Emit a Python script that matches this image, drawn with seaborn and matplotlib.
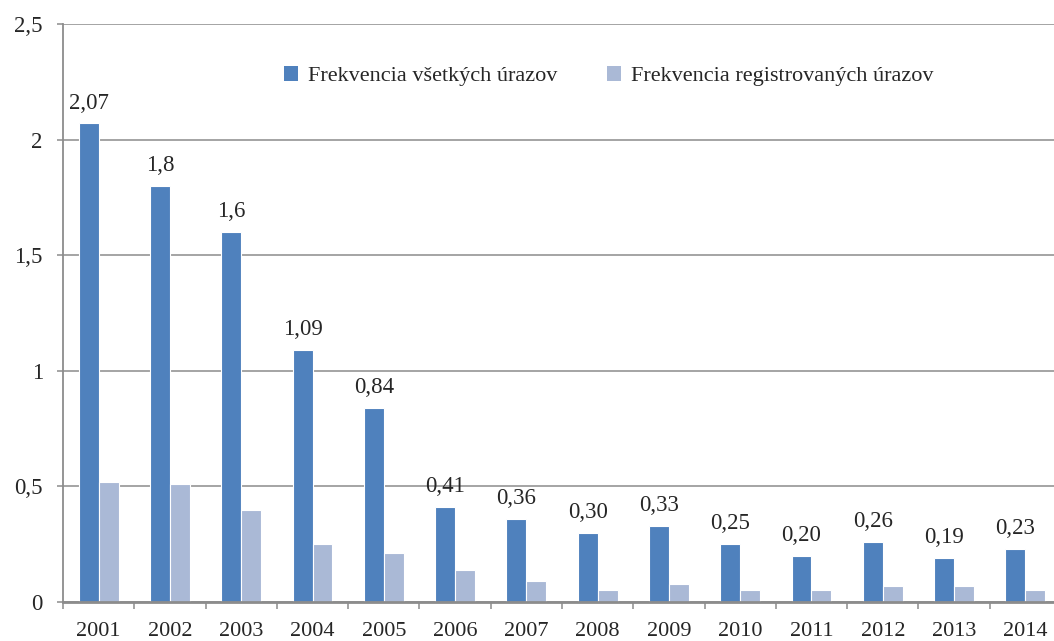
import matplotlib
matplotlib.use("Agg")
import matplotlib.pyplot as plt
import seaborn as sns
import pandas as pd
from matplotlib.patches import Patch

years = ["2001", "2002", "2003", "2004", "2005", "2006", "2007",
         "2008", "2009", "2010", "2011", "2012", "2013", "2014"]
vsetky = [2.07, 1.80, 1.60, 1.09, 0.84, 0.41, 0.36, 0.30, 0.33, 0.25, 0.20, 0.26, 0.19, 0.23]
registrovane = [0.52, 0.51, 0.40, 0.25, 0.21, 0.14, 0.09, 0.05, 0.08, 0.05, 0.05, 0.07, 0.07, 0.05]
value_labels = ["2,07", "1,8", "1,6", "1,09", "0,84", "0,41", "0,36",
                "0,30", "0,33", "0,25", "0,20", "0,26", "0,19", "0,23"]
series_names = ["Frekvencia všetkých úrazov", "Frekvencia registrovaných úrazov"]
y_ticks = [0, 0.5, 1, 1.5, 2, 2.5]
y_tick_labels = ["0", "0,5", "1", "1,5", "2", "2,5"]
colors = ["#4F81BD", "#AAB9D6"]

df = pd.DataFrame({
    "year": years * 2,
    "value": vsetky + registrovane,
    "series": [series_names[0]] * len(years) + [series_names[1]] * len(years),
})

sns.set_style("white")
plt.rcParams["font.family"] = ["Liberation Serif", "DejaVu Serif"]

fig = plt.figure(figsize=(10.54, 6.41), dpi=100)
ax = fig.add_axes([63 / 1054, 1 - 602 / 641, 998 / 1054, (602 - 24) / 641])

sns.barplot(data=df, x="year", y="value", hue="series", palette=colors,
            width=0.56, saturation=1, edgecolor="white", linewidth=0.8,
            ax=ax, legend=False)

ax.set_xlim(-0.5, len(years) - 0.5)
ax.set_ylim(0, 2.5)
ax.set_xlabel("")
ax.set_ylabel("")

grid_color = "#8C8C8C"
ax.set_yticks(y_ticks)
ax.set_yticklabels(y_tick_labels, fontsize=16.5)
ax.yaxis.grid(True, color=grid_color, linewidth=1.1)
ax.set_axisbelow(True)
ax.tick_params(axis="y", length=4.5, color=grid_color, width=1.1, pad=10, left=True)

ax.set_xticks(range(len(years)))
ax.set_xticklabels(years, fontsize=16)
ax.set_xticks([i - 0.5 for i in range(len(years) + 1)], minor=True)
ax.tick_params(axis="x", which="major", length=0, pad=14.5)
ax.tick_params(axis="x", which="minor", length=5, color=grid_color, width=1.1, bottom=True)

for side in ["top", "right"]:
    ax.spines[side].set_visible(False)
ax.spines["left"].set_color(grid_color)
ax.spines["left"].set_linewidth(1.3)
ax.spines["bottom"].set_color(grid_color)
ax.spines["bottom"].set_linewidth(2)

ax.bar_label(ax.containers[0], labels=value_labels, padding=7, fontsize=16.5)

handles = [Patch(facecolor=c, edgecolor="none") for c in colors]
fig.legend(handles, series_names, loc="center left",
           bbox_to_anchor=(284 / 1054, 1 - 76 / 641), ncol=2, frameon=False,
           fontsize=16, handlelength=0.65, handleheight=0.65,
           handletextpad=0.45, columnspacing=2.2, borderpad=0, borderaxespad=0)

fig.savefig("out.png", dpi=100)
